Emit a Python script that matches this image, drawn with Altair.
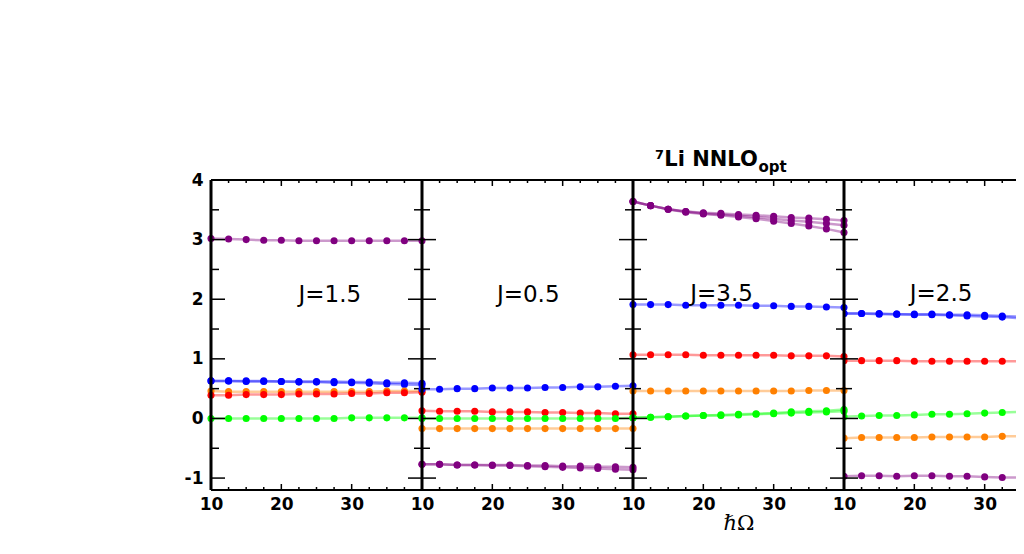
import altair as alt
import pandas as pd

# ---------------- data ----------------
HW = [10, 12.5, 15, 17.5, 20, 22.5, 25, 27.5, 30, 32.5, 35, 37.5, 40]
HW_J25 = [10, 12.5, 15, 17.5, 20, 22.5, 25, 27.5, 30, 32.5, 35]

# J = 1.5
J15_purple = [3.02, 3.01, 3.00, 2.99, 2.99, 2.98, 2.98, 2.98, 2.98, 2.98, 2.98, 2.98, 2.98]
J15_blue = [0.63, 0.63, 0.63, 0.63, 0.62, 0.62, 0.62, 0.62, 0.61, 0.61, 0.60, 0.60, 0.59]
J15_blue_b = [0.63, 0.63, 0.62, 0.62, 0.62, 0.61, 0.61, 0.60, 0.60, 0.59, 0.58, 0.57, 0.56]
J15_orange = [0.46, 0.45, 0.45, 0.45, 0.45, 0.45, 0.45, 0.45, 0.45, 0.45, 0.46, 0.46, 0.46]
J15_red = [0.39, 0.39, 0.40, 0.40, 0.40, 0.41, 0.41, 0.41, 0.42, 0.42, 0.43, 0.43, 0.44]
J15_green = [0.00, 0.00, 0.00, 0.00, 0.00, 0.00, 0.00, 0.00, 0.01, 0.01, 0.01, 0.01, 0.01]

# J = 0.5
J05_blue = [0.49, 0.49, 0.50, 0.50, 0.51, 0.51, 0.51, 0.52, 0.52, 0.53, 0.53, 0.54, 0.55]
J05_red = [0.13, 0.12, 0.12, 0.12, 0.11, 0.11, 0.11, 0.10, 0.10, 0.09, 0.09, 0.08, 0.08]
J05_green = [0.00, 0.00, 0.00, 0.00, 0.00, 0.00, 0.00, 0.00, 0.00, 0.00, 0.00, 0.00, 0.01]
J05_orange = [-0.17, -0.17, -0.17, -0.17, -0.17, -0.17, -0.17, -0.17, -0.17, -0.17, -0.17, -0.17, -0.17]
J05_purple = [-0.77, -0.77, -0.78, -0.78, -0.78, -0.78, -0.79, -0.79, -0.80, -0.80, -0.81, -0.81, -0.82]
J05_purple_b = [-0.77, -0.77, -0.78, -0.78, -0.79, -0.79, -0.80, -0.81, -0.82, -0.83, -0.84, -0.85, -0.86]

# J = 3.5
J35_purple = [3.64, 3.57, 3.51, 3.47, 3.45, 3.44, 3.42, 3.41, 3.39, 3.37, 3.36, 3.34, 3.32]
J35_purple_b = [3.64, 3.57, 3.51, 3.47, 3.44, 3.42, 3.40, 3.38, 3.35, 3.32, 3.30, 3.27, 3.24]
J35_purple_c = [3.64, 3.57, 3.51, 3.46, 3.43, 3.41, 3.38, 3.35, 3.31, 3.27, 3.23, 3.18, 3.12]
J35_blue = [1.91, 1.91, 1.91, 1.90, 1.90, 1.90, 1.90, 1.89, 1.89, 1.88, 1.88, 1.87, 1.86]
J35_red = [1.07, 1.07, 1.07, 1.07, 1.06, 1.06, 1.06, 1.06, 1.06, 1.05, 1.05, 1.05, 1.04]
J35_orange = [0.46, 0.46, 0.46, 0.46, 0.46, 0.46, 0.46, 0.46, 0.46, 0.46, 0.47, 0.47, 0.47]
J35_green = [0.01, 0.02, 0.03, 0.04, 0.05, 0.05, 0.06, 0.07, 0.08, 0.09, 0.10, 0.11, 0.12]
J35_green_b = [0.01, 0.02, 0.03, 0.04, 0.05, 0.06, 0.07, 0.08, 0.09, 0.11, 0.12, 0.13, 0.15]

# J = 2.5 (visible part only)
J25_blue = [1.76, 1.76, 1.76, 1.75, 1.75, 1.75, 1.74, 1.74, 1.73, 1.72, 1.71]
J25_blue_b = [1.76, 1.76, 1.75, 1.75, 1.74, 1.74, 1.73, 1.72, 1.71, 1.70, 1.68]
J25_red = [0.97, 0.97, 0.97, 0.97, 0.96, 0.96, 0.96, 0.96, 0.96, 0.96, 0.96]
J25_green = [0.03, 0.04, 0.05, 0.05, 0.06, 0.07, 0.07, 0.08, 0.09, 0.10, 0.11]
J25_orange = [-0.33, -0.32, -0.32, -0.32, -0.32, -0.31, -0.31, -0.31, -0.31, -0.30, -0.30]
J25_purple = [-0.97, -0.96, -0.96, -0.97, -0.96, -0.96, -0.97, -0.97, -0.98, -0.99, -0.99]

SERIES = ["purple", "blue", "red", "orange", "green"]
COLORS = ["#800080", "#0000ff", "#ff0000", "#ff8000", "#00ff00"]

PANEL_TITLES = ["J=1.5", "J=0.5", "J=3.5", "J=2.5"]
PANEL_LABEL_X = [26.9, 25.1, 22.6, 23.8]
PANEL_LABEL_Y = [2.07, 2.07, 2.08, 2.08]

PANEL_LINES = [
    [("purple", "a", HW, J15_purple), ("blue", "a", HW, J15_blue), ("blue", "b", HW, J15_blue_b),
     ("orange", "a", HW, J15_orange), ("red", "a", HW, J15_red), ("green", "a", HW, J15_green)],
    [("blue", "a", HW, J05_blue), ("red", "a", HW, J05_red), ("green", "a", HW, J05_green),
     ("orange", "a", HW, J05_orange), ("purple", "a", HW, J05_purple), ("purple", "b", HW, J05_purple_b)],
    [("purple", "a", HW, J35_purple), ("purple", "b", HW, J35_purple_b), ("purple", "c", HW, J35_purple_c),
     ("blue", "a", HW, J35_blue), ("red", "a", HW, J35_red), ("orange", "a", HW, J35_orange),
     ("green", "a", HW, J35_green), ("green", "b", HW, J35_green_b)],
    [("blue", "a", HW_J25, J25_blue), ("blue", "b", HW_J25, J25_blue_b), ("red", "a", HW_J25, J25_red),
     ("green", "a", HW_J25, J25_green), ("orange", "a", HW_J25, J25_orange), ("purple", "a", HW_J25, J25_purple)],
]

Y_LABELS = [-1, 0, 1, 2, 3, 4]
Y_MAJOR = [-1, 0, 1, 2, 3, 4]
Y_MINOR = [-0.5, 0.5, 1.5, 2.5, 3.5]
X_LABELS = [10, 20, 30]
X_MAJOR = [10, 20, 30, 40]
X_MINOR = [12.5, 15, 17.5, 22.5, 25, 27.5, 32.5, 35, 37.5]

TITLE_MAIN = "\u2077Li NNLO"
TITLE_SUB = "opt"
X_TITLE = "\u210f\u03a9"

# ---------------- layout / style ----------------
W = 211          # full panel width (hw 10..40)
W_LAST = 172     # last panel is cut by the page edge
H = 310
Y_DOMAIN = [-1.2, 4]
PANEL_WIDTHS = [W, W, W, W_LAST]


def make_panel(i):
    width = PANEL_WIDTHS[i]
    xmax = 10 + 30 * width / W
    clip = i == 3

    x_axis = alt.Axis(values=X_LABELS, ticks=False, domain=False, grid=False,
                      labelFlush=False, labelPadding=6, labelFontSize=17,
                      labelFontWeight="bold", labelFont="DejaVu Sans", labelColor="black",
                      title=X_TITLE if i == 2 else None,
                      titleFont="DejaVu Serif", titleFontSize=21, titleFontWeight="normal",
                      titlePadding=0, titleColor="black")
    X = alt.X("hw:Q", scale=alt.Scale(domain=[10, xmax], nice=False, zero=False), axis=x_axis)
    if i == 0:
        y_axis = alt.Axis(values=Y_LABELS, ticks=False, domain=False, grid=False,
                          labelPadding=8, labelFontSize=17, labelFontWeight="bold",
                          labelFont="DejaVu Sans", labelColor="black",
                          labelExpr="'' + datum.value", title=None)
        Y = alt.Y("E:Q", scale=alt.Scale(domain=Y_DOMAIN, nice=False, zero=False), axis=y_axis)
    else:
        Y = alt.Y("E:Q", scale=alt.Scale(domain=Y_DOMAIN, nice=False, zero=False), axis=None)

    rows = []
    for s, v, xs, ys in PANEL_LINES[i]:
        for xv, yv in zip(xs, ys):
            rows.append({"hw": xv, "E": yv, "s": s, "k": s + v})
    df = pd.DataFrame(rows)
    C = alt.Color("s:N", scale=alt.Scale(domain=SERIES, range=COLORS), legend=None)

    lines = alt.Chart(df).mark_line(strokeWidth=2.5, opacity=0.4, clip=clip).encode(
        x=X, y=Y, color=C, detail="k:N")
    points = alt.Chart(df).mark_point(filled=True, size=50, opacity=1, shape="circle", clip=clip).encode(
        x=X, y=Y, color=C, detail="k:N")

    one = pd.DataFrame({"a": [0]})
    left_border = alt.Chart(one).mark_rule(color="black", strokeWidth=3).encode(
        x=alt.value(0), y=alt.value(0), y2=alt.value(H))
    top_border = alt.Chart(one).mark_rule(color="black", strokeWidth=2).encode(
        x=alt.value(0), x2=alt.value(width), y=alt.value(0))
    bottom_border = alt.Chart(one).mark_rule(color="black", strokeWidth=2).encode(
        x=alt.value(0), x2=alt.value(width), y=alt.value(H))

    ymaj = pd.DataFrame({"E": Y_MAJOR})
    ymin = pd.DataFrame({"E": Y_MINOR})
    xmaj = pd.DataFrame({"hw": [t for t in X_MAJOR if t <= xmax]})
    xmin = pd.DataFrame({"hw": [t for t in X_MINOR if t <= xmax]})

    tk = dict(color="black", strokeWidth=1.5)
    layers = [
        lines, points,
        alt.Chart(ymaj).mark_rule(**tk).encode(y=Y, x=alt.value(0), x2=alt.value(14)),
        alt.Chart(ymin).mark_rule(**tk).encode(y=Y, x=alt.value(0), x2=alt.value(8)),
        alt.Chart(xmaj).mark_rule(**tk).encode(x=X, y=alt.value(H - 6), y2=alt.value(H)),
        alt.Chart(xmin).mark_rule(**tk).encode(x=X, y=alt.value(H - 3), y2=alt.value(H)),
        alt.Chart(xmaj).mark_rule(**tk).encode(x=X, y=alt.value(0), y2=alt.value(6)),
        alt.Chart(xmin).mark_rule(**tk).encode(x=X, y=alt.value(0), y2=alt.value(3)),
    ]
    if i < 3:
        layers += [
            alt.Chart(ymaj).mark_rule(**tk).encode(y=Y, x=alt.value(width - 14), x2=alt.value(width)),
            alt.Chart(ymin).mark_rule(**tk).encode(y=Y, x=alt.value(width - 8), x2=alt.value(width)),
        ]
    layers += [left_border, top_border, bottom_border]

    lab = pd.DataFrame({"hw": [PANEL_LABEL_X[i]], "E": [PANEL_LABEL_Y[i]], "t": [PANEL_TITLES[i]]})
    layers.append(alt.Chart(lab).mark_text(font="DejaVu Sans", fontSize=23, align="center",
                                           baseline="middle", color="black").encode(x=X, y=Y, text="t:N"))
    if i == 2:
        tmain = pd.DataFrame({"hw": [27.75], "E": [4.235], "t": [TITLE_MAIN]})
        tsub = pd.DataFrame({"hw": [27.85], "E": [4.235], "t": [TITLE_SUB]})
        layers.append(alt.Chart(tmain).mark_text(font="DejaVu Sans", fontSize=21, fontWeight="bold",
                                                 align="right", baseline="alphabetic", color="black")
                      .encode(x=X, y=Y, text="t:N"))
        layers.append(alt.Chart(tsub).mark_text(font="DejaVu Sans", fontSize=15, fontWeight="bold",
                                                align="left", baseline="alphabetic", dy=6, color="black")
                      .encode(x=X, y=Y, text="t:N"))

    return alt.layer(*layers).properties(width=width, height=H)


chart = alt.hconcat(*[make_panel(i) for i in range(4)], spacing=0, bounds="flush").properties(
    autosize=alt.AutoSizeParams(type="none"),
    padding={"left": 203, "top": 172, "right": 3 * W + W_LAST, "bottom": 350}
).configure_view(stroke=None)

chart.save("out.html", embed_options={"renderer": "svg", "actions": False})
